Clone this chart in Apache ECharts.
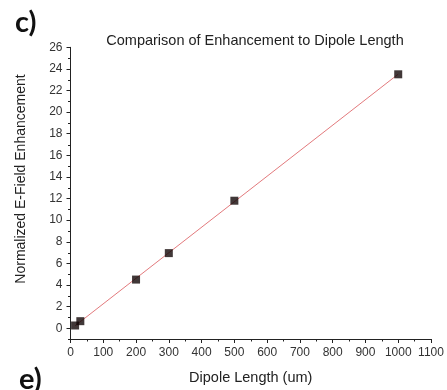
<!DOCTYPE html>
<html>
<head>
<meta charset="utf-8">
<script src="https://cdn.jsdelivr.net/npm/echarts@6/dist/echarts.min.js"></script>
<style>
  html, body { margin: 0; padding: 0; background: #fff; }
  #chart { width: 447px; height: 390px; }
</style>
</head>
<body>
<div id="chart"></div>
<script>
// Measured enhancement versus dipole length
const dipoleLength = [14, 30, 200, 300, 500, 1000];
const enhancement = [0.25, 0.65, 4.5, 6.95, 11.8, 23.5];
const yTickValues = [0, 2, 4, 6, 8, 10, 12, 14, 16, 18, 20, 22, 24, 26];
const yMinorValues = [-1, 1, 3, 5, 7, 9, 11, 13, 15, 17, 19, 21, 23, 25];

// Least-squares linear fit through the measurements
function linearFit(xs, ys) {
  const n = xs.length;
  const mx = xs.reduce((a, b) => a + b, 0) / n;
  const my = ys.reduce((a, b) => a + b, 0) / n;
  let sxy = 0, sxx = 0;
  for (let i = 0; i < n; i++) {
    sxy += (xs[i] - mx) * (ys[i] - my);
    sxx += (xs[i] - mx) * (xs[i] - mx);
  }
  const slope = sxy / sxx;
  return { slope, intercept: my - slope * mx };
}
const fit = linearFit(dipoleLength, enhancement);
const fitX = [Math.min(...dipoleLength), Math.max(...dipoleLength)];
const fitLine = fitX.map(x => [x, fit.intercept + fit.slope * x]);

const font = '"Liberation Sans", Arial, sans-serif';
const panelFont = 'bold 29px Lato, "Open Sans", sans-serif';
const chart = echarts.init(document.getElementById('chart'), null, { renderer: 'canvas' });

// Panel letters and the rotated value-axis title
const staticGraphics = [
  { type: 'text', left: 15, top: 8, style: { text: 'c)', font: panelFont, fill: '#111' } },
  { type: 'text', left: 19, top: 365, style: { text: 'e)', font: panelFont, fill: '#111' } },
  { type: 'text', x: 21, y: 179, rotation: Math.PI / 2,
    style: { text: 'Normalized E-Field Enhancement', font: '14px ' + font, fill: '#222',
      align: 'center', verticalAlign: 'middle' } }
];

chart.setOption({
  animation: false,
  backgroundColor: '#fff',
  title: {
    text: 'Comparison of Enhancement to Dipole Length',
    left: 250, top: 28, textAlign: 'center',
    textStyle: { fontFamily: font, fontSize: 14.5, fontWeight: 'normal', color: '#222' }
  },
  graphic: staticGraphics,
  grid: { left: 70.5, right: 16, top: 47.3, bottom: 51 },
  xAxis: {
    type: 'value', min: 0, max: 1100, interval: 100,
    name: 'Dipole Length (um)', nameLocation: 'middle', nameGap: 31,
    nameTextStyle: { fontFamily: font, fontSize: 14.5, color: '#222' },
    axisLine: { onZero: false, lineStyle: { color: '#222', width: 1 } },
    axisTick: { show: true, length: 4, inside: false, lineStyle: { color: '#222' } },
    minorTick: { show: true, splitNumber: 2, length: 2.5, lineStyle: { color: '#222' } },
    splitLine: { show: false },
    axisLabel: { fontFamily: font, fontSize: 12, color: '#333', margin: 8,
      formatter: v => String(v) }
  },
  yAxis: {
    type: 'value', min: -1, max: 26,
    axisLine: { show: true, onZero: false, lineStyle: { color: '#222', width: 1 } },
    axisTick: { show: true, length: 4, inside: false, lineStyle: { color: '#222' },
      customValues: yTickValues },
    minorTick: { show: false },
    splitLine: { show: false },
    axisLabel: { fontFamily: font, fontSize: 12, color: '#333', margin: 8,
      customValues: yTickValues }
  },
  series: [
    {
      type: 'line', data: fitLine, symbol: 'none', silent: true,
      lineStyle: { color: '#e37a7d', width: 1 }, z: 2
    },
    {
      type: 'scatter',
      data: dipoleLength.map((x, i) => [x, enhancement[i]]),
      symbol: 'rect', symbolSize: 8,
      itemStyle: { color: '#120606' }, z: 3
    }
  ]
});

// Short minor ticks at odd values on the value axis
const x0 = chart.convertToPixel({ xAxisIndex: 0 }, 0);
chart.setOption({
  graphic: staticGraphics.concat(yMinorValues.map(v => {
    const y = Math.round(chart.convertToPixel({ yAxisIndex: 0 }, v)) + 0.5;
    return { type: 'line', shape: { x1: x0 - 2.5, y1: y, x2: x0, y2: y }, style: { stroke: '#222', lineWidth: 1 } };
  }))
});
</script>
</body>
</html>
